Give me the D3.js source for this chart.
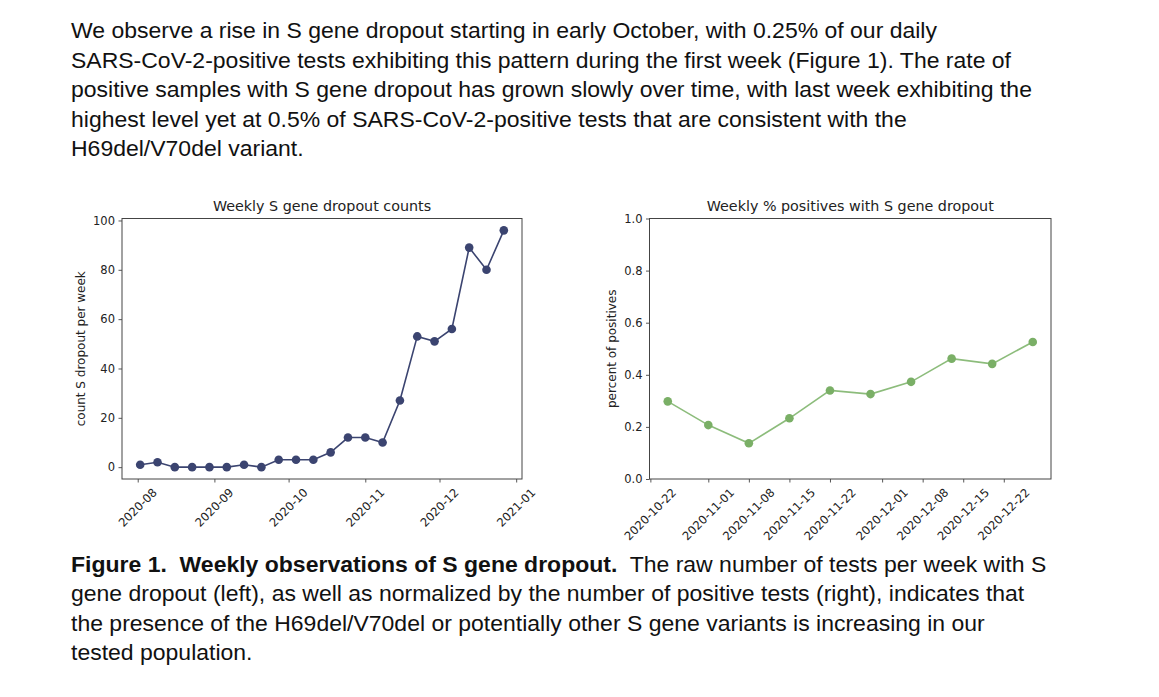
<!DOCTYPE html>
<html>
<head>
<meta charset="utf-8">
<script src="https://cdn.jsdelivr.net/npm/d3@7"></script>
<style>
  html, body { margin: 0; padding: 0; background: #ffffff; }
  svg { display: block; }
</style>
</head>
<body>
<svg id="chart" width="1159" height="697"></svg>
<script>
// ---------------- data ----------------
const paragraphLines = [
  "We observe a rise in S gene dropout starting in early October, with 0.25% of our daily",
  "SARS-CoV-2-positive tests exhibiting this pattern during the first week (Figure 1). The rate of",
  "positive samples with S gene dropout has grown slowly over time, with last week exhibiting the",
  "highest level yet at 0.5% of SARS-CoV-2-positive tests that are consistent with the",
  "H69del/V70del variant."
];
const captionBold = "Figure 1.  Weekly observations of S gene dropout.";
const captionRest = "  The raw number of tests per week with S";
const captionLines = [
  "gene dropout (left), as well as normalized by the number of positive tests (right), indicates that",
  "the presence of the H69del/V70del or potentially other S gene variants is increasing in our",
  "tested population."
];

const countTitle = "Weekly S gene dropout counts";
const countYLabel = "count S dropout per week";
const countDates = ["2020-08-02","2020-08-09","2020-08-16","2020-08-23","2020-08-30","2020-09-06",
  "2020-09-13","2020-09-20","2020-09-27","2020-10-04","2020-10-11","2020-10-18","2020-10-25",
  "2020-11-01","2020-11-08","2020-11-15","2020-11-22","2020-11-29","2020-12-06","2020-12-13",
  "2020-12-20","2020-12-27"];
const countValues = [1,2,0,0,0,0,1,0,3,3,3,6,12,12,10,27,53,51,56,89,80,96];
const countXTicks = ["2020-08","2020-09","2020-10","2020-11","2020-12","2021-01"];
const countYTicks = [0,20,40,60,80,100];

const pctTitle = "Weekly % positives with S gene dropout";
const pctYLabel = "percent of positives";
const pctDates = ["2020-10-25","2020-11-01","2020-11-08","2020-11-15","2020-11-22","2020-11-29",
  "2020-12-06","2020-12-13","2020-12-20","2020-12-27"];
const pctValues = [0.298,0.207,0.137,0.233,0.340,0.326,0.373,0.462,0.442,0.526];
const pctXTicks = ["2020-10-22","2020-11-01","2020-11-08","2020-11-15","2020-11-22","2020-12-01",
  "2020-12-08","2020-12-15","2020-12-22"];
const pctYTicks = [0.0,0.2,0.4,0.6,0.8,1.0];

// ---------------- drawing ----------------
const svg = d3.select("#chart");
const textFont = "'Liberation Sans', Arial, sans-serif";
const plotFont = "'DejaVu Sans', sans-serif";
const textX = 71;
const stretch = 1.07;

// paragraph
const para = svg.append("g")
  .attr("transform", `translate(${textX},0) scale(${stretch},1)`);
para.selectAll("text").data(paragraphLines).join("text")
  .attr("x", 0)
  .attr("y", (d, i) => 38.5 + i * 29.5)
  .attr("font-family", textFont).attr("font-size", 21.5).attr("fill", "#111")
  .text(d => d);

// caption
const capG = svg.append("g")
  .attr("transform", `translate(${textX},0) scale(${stretch},1)`);
const cap = capG.append("text").attr("x", 0).attr("y", 572)
  .attr("font-family", textFont).attr("font-size", 21.5).attr("fill", "#111")
  .attr("xml:space", "preserve");
cap.append("tspan").attr("font-weight", "bold").text(captionBold);
cap.append("tspan").text(captionRest);
capG.append("g").selectAll("text").data(captionLines).join("text")
  .attr("x", 0)
  .attr("y", (d, i) => 601.5 + i * 29.5)
  .attr("font-family", textFont).attr("font-size", 21.5).attr("fill", "#111")
  .text(d => d);

const parse = d3.utcParse("%Y-%m-%d");
const parseMonth = d3.utcParse("%Y-%m");

function panel(opts) {
  const { left, right, top, bottom, dates, values, yDomain, xTicks, yTicks, yFmt,
          title, yLabel, yLabelX, lineColor, dotColor, lineOpacity, tickParse } = opts;
  const g = svg.append("g");
  const ds = dates.map(parse);
  const ext = d3.extent(ds);
  const span = ext[1] - ext[0];
  const x = d3.scaleUtc()
    .domain([new Date(+ext[0] - span * 0.05), new Date(+ext[1] + span * 0.05)])
    .range([left, right]);
  const y = d3.scaleLinear().domain(yDomain).range([bottom, top]);

  // y axis
  const yAxis = d3.axisLeft(y).tickValues(yTicks).tickFormat(yFmt).tickSize(3.5).tickPadding(3.5);
  const ya = g.append("g").attr("transform", `translate(${left},0)`).call(yAxis);
  ya.select(".domain").remove();
  ya.selectAll("line").attr("stroke", "#444").attr("stroke-width", 0.9);
  ya.selectAll("text").attr("font-family", plotFont).attr("font-size", 11.5).attr("fill", "#222");

  // x axis
  const xt = xTicks.map(tickParse);
  const xAxis = d3.axisBottom(x).tickValues(xt).tickFormat(() => "").tickSize(3.5);
  const xa = g.append("g").attr("transform", `translate(0,${bottom})`).call(xAxis);
  xa.select(".domain").remove();
  xa.selectAll("line").attr("stroke", "#444").attr("stroke-width", 0.9);

  // rotated x labels
  xTicks.forEach((lab, i) => {
    const tx = x(xt[i]);
    const t = g.append("text")
      .attr("font-family", plotFont).attr("font-size", 11.6).attr("fill", "#222")
      .attr("text-anchor", "middle").attr("dominant-baseline", "central")
      .text(lab);
    const w = t.node().getComputedTextLength();
    const h = 11.6 * 0.95;
    const bh = (w + h) * Math.SQRT1_2;
    const ty = bottom + 3.5 + 4 + bh / 2;
    t.attr("x", tx).attr("y", ty).attr("transform", `rotate(-45,${tx},${ty})`);
  });

  // frame
  g.append("rect").attr("x", left).attr("y", top)
    .attr("width", right - left).attr("height", bottom - top)
    .attr("fill", "none").attr("stroke", "#444").attr("stroke-width", 1);

  // line + dots
  const pts = ds.map((d, i) => [d, values[i]]);
  g.append("path").datum(pts)
    .attr("fill", "none").attr("stroke", lineColor).attr("stroke-width", 1.6)
    .attr("stroke-opacity", lineOpacity)
    .attr("d", d3.line().x(d => x(d[0])).y(d => y(d[1])));
  g.selectAll("circle.pt").data(pts).join("circle")
    .attr("cx", d => x(d[0])).attr("cy", d => y(d[1])).attr("r", 4.3)
    .attr("fill", dotColor);

  // title
  g.append("text").attr("x", (left + right) / 2).attr("y", top - 7.5)
    .attr("text-anchor", "middle").attr("font-family", plotFont).attr("font-size", 14.3)
    .attr("fill", "#222").text(title);

  // y label
  const cy = (top + bottom) / 2;
  g.append("text").attr("x", yLabelX).attr("y", cy)
    .attr("text-anchor", "middle").attr("dominant-baseline", "central")
    .attr("transform", `rotate(-90,${yLabelX},${cy})`)
    .attr("font-family", plotFont).attr("font-size", 12).attr("fill", "#222")
    .text(yLabel);
}

panel({
  left: 122, right: 522, top: 218.5, bottom: 479,
  dates: countDates, values: countValues, yDomain: [-4.8, 100.8],
  xTicks: countXTicks, yTicks: countYTicks, yFmt: d3.format("d"),
  title: countTitle, yLabel: countYLabel, yLabelX: 80.5,
  lineColor: "#3b4470", dotColor: "#3b4470", lineOpacity: 1, tickParse: parseMonth
});

panel({
  left: 649.5, right: 1051, top: 218.5, bottom: 479,
  dates: pctDates, values: pctValues, yDomain: [0, 1],
  xTicks: pctXTicks, yTicks: pctYTicks, yFmt: d3.format(".1f"),
  title: pctTitle, yLabel: pctYLabel, yLabelX: 611.5,
  lineColor: "#86b874", dotColor: "#7aaf66", lineOpacity: 0.95, tickParse: parse
});
</script>
</body>
</html>
